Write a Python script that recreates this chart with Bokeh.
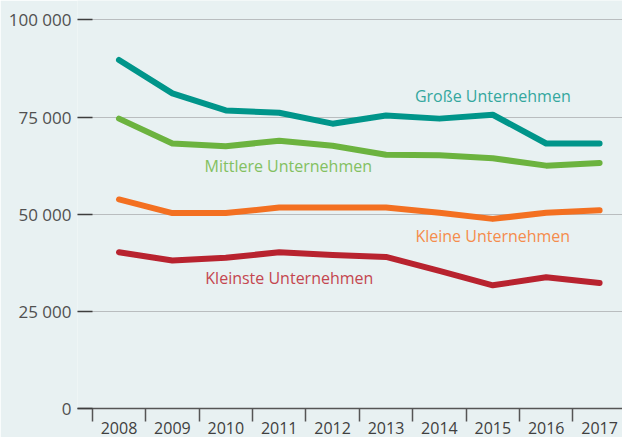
from bokeh.plotting import figure
from bokeh.models import FixedTicker, ColumnDataSource, Range1d
from bokeh.core.properties import value
from bokeh.embed import file_html
from bokeh.resources import INLINE

years = ["2008", "2009", "2010", "2011", "2012", "2013", "2014", "2015", "2016", "2017"]
grosse = [89700, 81100, 76700, 76100, 73300, 75400, 74600, 75600, 68200, 68200]
mittlere = [74600, 68200, 67500, 68900, 67600, 65300, 65200, 64400, 62500, 63200]
kleine = [53800, 50300, 50300, 51700, 51700, 51700, 50400, 48800, 50400, 51000]
kleinste = [40200, 38100, 38800, 40200, 39500, 39000, 35400, 31700, 33800, 32300]

series_names = ["Große Unternehmen", "Mittlere Unternehmen", "Kleine Unternehmen", "Kleinste Unternehmen"]
series_values = [grosse, mittlere, kleine, kleinste]
line_colors = ["#00958a", "#6cb33f", "#f37021", "#b8232f"]
label_colors = ["#34a79e", "#83c061", "#f58c4c", "#c4464f"]
label_x = [7.0, 3.17, 7.0, 3.19]
label_y = [80300, 62500, 44300, 33500]

y_ticks = [0, 25000, 50000, 75000, 100000]
y_tick_labels = ["0", "25 000", "50 000", "75 000", "100 000"]

FONT = "Open Sans"
BG = "#e8f1f2"

xs = list(range(len(years)))

p = figure(width=622, height=437, output_backend="svg", toolbar_location=None,
           x_range=Range1d(-0.777, 9.429), y_range=Range1d(0, 105000),
           min_border_left=77, min_border_right=0, min_border_top=0, min_border_bottom=29)
p.background_fill_color = BG
p.border_fill_color = BG
p.outline_line_color = None

for name, vals, lc in zip(series_names, series_values, line_colors):
    p.line(xs, vals, line_color=lc, line_width=6, line_cap="round", line_join="round")

src = ColumnDataSource(dict(x=label_x, y=label_y, t=series_names, c=label_colors))
p.text(x="x", y="y", text="t", text_color="c", source=src, text_align="center",
       text_baseline="middle", text_font=value(FONT), text_font_size="16px")

# y axis
p.yaxis.ticker = FixedTicker(ticks=y_ticks)
p.yaxis.major_label_overrides = {t: l for t, l in zip(y_ticks, y_tick_labels)}
p.yaxis.axis_line_color = None
p.yaxis.major_tick_in = 15
p.yaxis.major_tick_out = 0
p.yaxis.major_tick_line_color = "#3d3d3d"
p.yaxis.major_tick_line_width = 1.5
p.yaxis.minor_tick_line_color = None
p.yaxis.major_label_standoff = 6
p.yaxis.major_label_text_font = FONT
p.yaxis.major_label_text_font_size = "17px"
p.yaxis.major_label_text_color = "#505050"

# x axis: labels at centres, ticks at category boundaries
p.xaxis.ticker = FixedTicker(ticks=xs, minor_ticks=[i - 0.5 for i in xs] + [len(xs) - 0.5])
p.xaxis.major_label_overrides = {i: y for i, y in enumerate(years)}
p.xaxis.major_tick_line_color = None
p.xaxis.major_tick_out = 9
p.xaxis.major_tick_in = 0
p.xaxis.minor_tick_out = 13
p.xaxis.minor_tick_in = 0
p.xaxis.minor_tick_line_color = "#555555"
p.xaxis.minor_tick_line_width = 1.5
p.xaxis.axis_line_color = "#555555"
p.xaxis.axis_line_width = 1.5
p.xaxis.major_label_standoff = 0
p.xaxis.major_label_text_font = FONT
p.xaxis.major_label_text_font_size = "16px"
p.xaxis.major_label_text_color = "#404040"

p.ygrid.ticker = FixedTicker(ticks=y_ticks)
p.ygrid.grid_line_color = "#b9bdbf"
p.ygrid.grid_line_width = 1
p.xgrid.grid_line_color = None

open("out.html", "w").write(file_html(p, INLINE))
